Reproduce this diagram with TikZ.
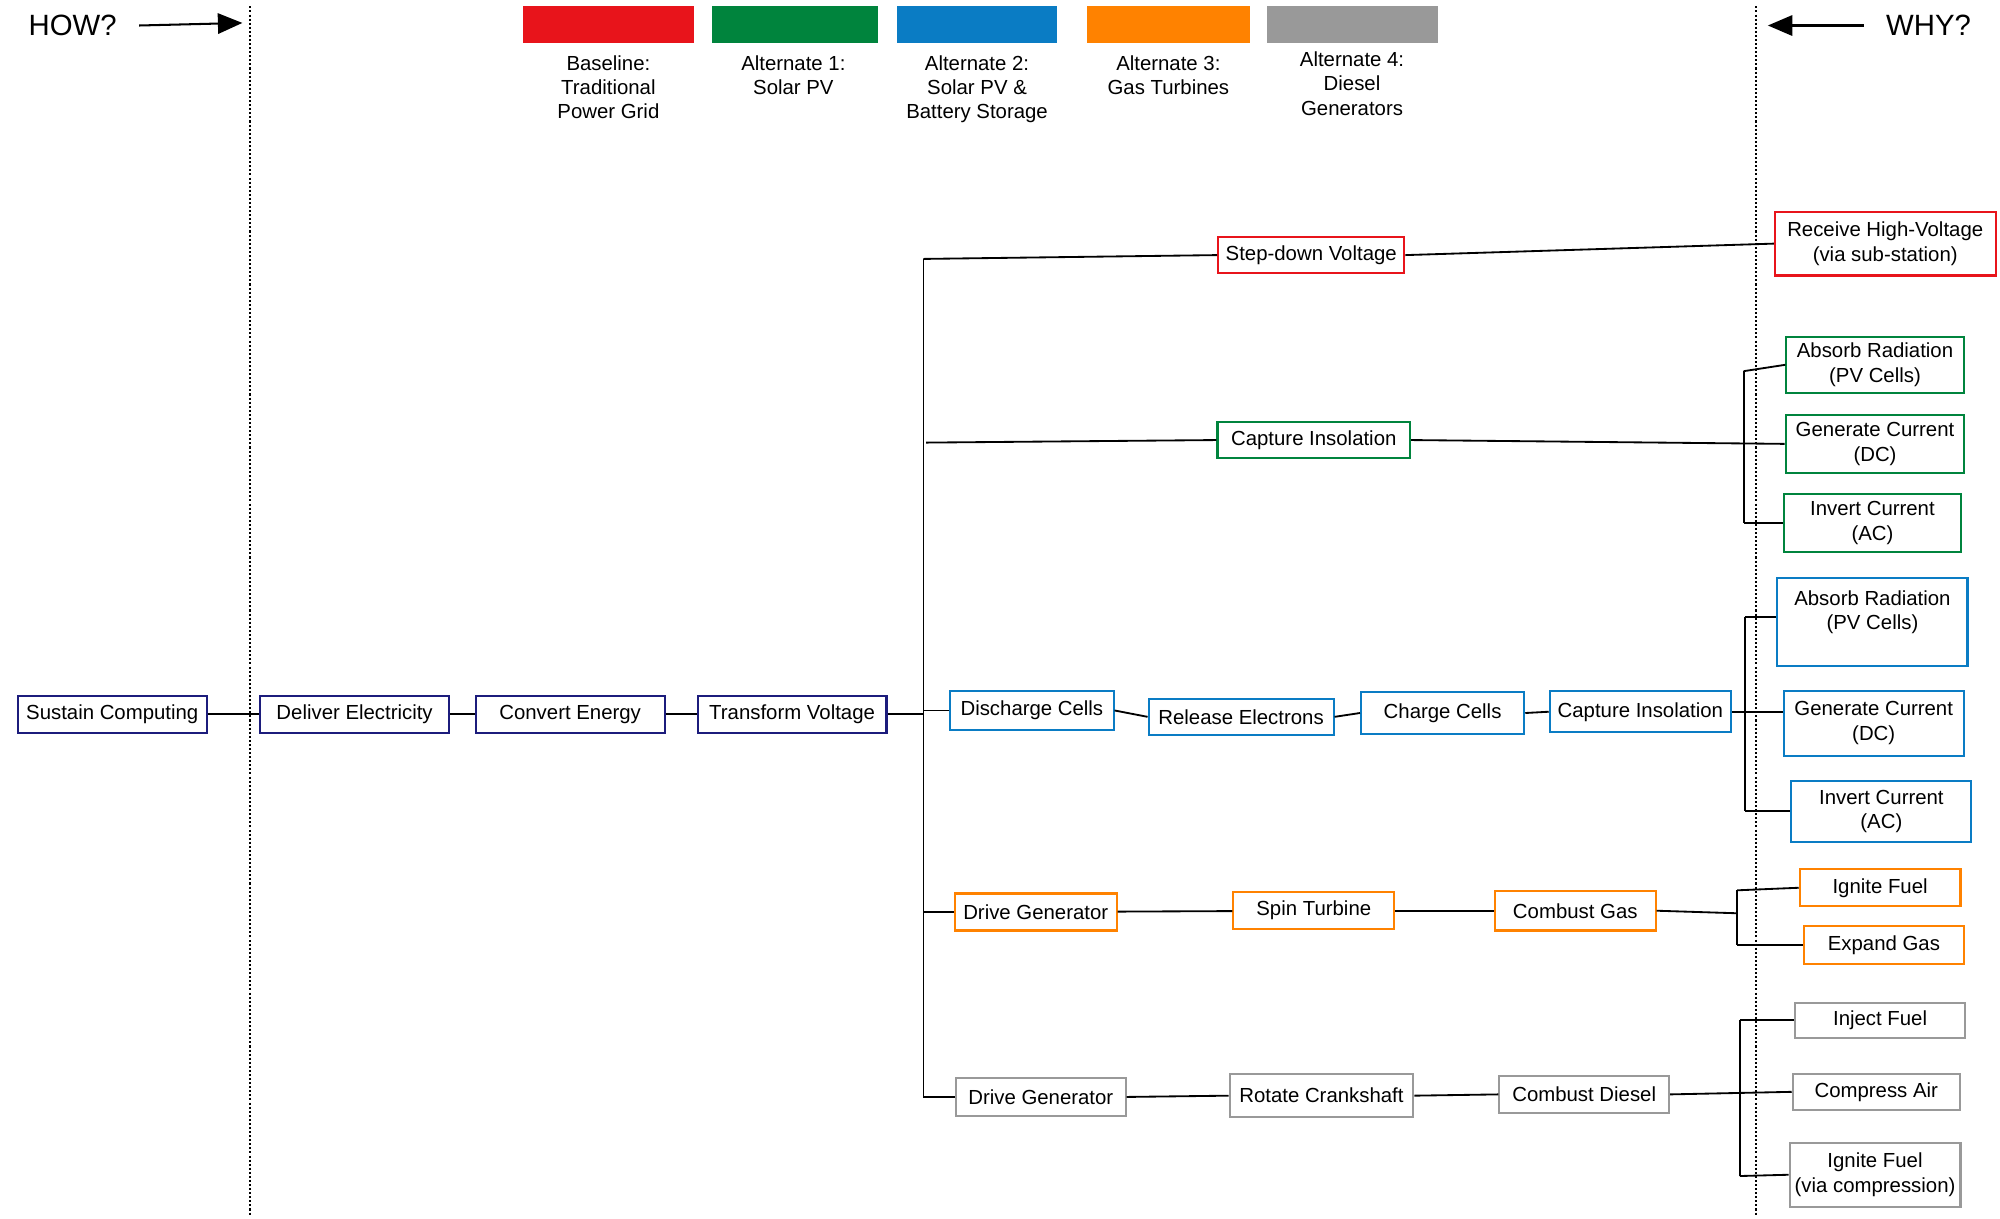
\documentclass[tikz,border=0pt]{standalone}
\usepackage{fontspec}
\setmainfont{Liberation Sans}
\usetikzlibrary{arrows.meta}
\definecolor{fnNavy}{HTML}{1C1C7C}
\definecolor{fnRed}{HTML}{E8141B}
\definecolor{fnGreen}{HTML}{00843D}
\definecolor{fnBlue}{HTML}{0A7CC4}
\definecolor{fnOrange}{HTML}{FF8200}
\definecolor{fnGray}{HTML}{999999}
\tikzset{
    fn/.style={
        draw,
        rectangle,
        line width=1pt,
        align=center,
        inner sep=1pt,
        font=\normalsize
    },
    link/.style={line width=0.9pt, color=black},
    swatch/.style={fill, draw=none},
    key/.style={align=center, font=\normalsize, inner sep=0pt}
}
\begin{document}
\begin{tikzpicture}[x=0.022cm, y=-0.022cm]
    \useasboundingbox (0,0) rectangle (1568,955);

    % HOW / WHY
    \draw[densely dotted, line width=1pt] (196,5) -- (196,953);
    \draw[densely dotted, line width=1pt] (1377,5) -- (1377,953);
    \node[font=\Large] (how) at (57,20) {HOW?};
    \node[font=\Large] (why) at (1512,20) {WHY?};
    \coordinate (howend) at (190,18);
    \coordinate (whyend) at (1386,20);
    \draw[line width=1pt, -{Triangle[length=12pt,width=10pt]}] (how.east) ++(12,0) -- (howend);
    \draw[line width=1pt, -{Triangle[length=12pt,width=10pt]}] (why.west) ++(-12,0) -- (whyend);

    % Legend
    \fill[fnRed] (410,5) rectangle (544,34);
    \fill[fnGreen] (558,5) rectangle (688,34);
    \fill[fnBlue] (703,5) rectangle (829,34);
    \fill[fnOrange] (852,5) rectangle (980,34);
    \fill[fnGray] (993,5) rectangle (1127,34);
    \node[key, anchor=north] (k0) at (477,43) {Baseline:\\Traditional\\Power Grid};
    \node[key, anchor=north] (k1) at (622,43) {Alternate 1:\\Solar PV};
    \node[key, anchor=north] (k2) at (766,43) {Alternate 2:\\Solar PV \&\\Battery Storage};
    \node[key, anchor=north] (k3) at (916,43) {Alternate 3:\\Gas Turbines};
    \node[key, anchor=north] (k4) at (1060,40) {Alternate 4:\\Diesel\\Generators};

    % Main chain
    \node[fn, draw=fnNavy, minimum width=148*0.022cm, minimum height=29*0.022cm] (sustain) at (88,560) {Sustain Computing};
    \node[fn, draw=fnNavy, minimum width=148*0.022cm, minimum height=29*0.022cm] (deliver) at (278,560) {Deliver Electricity};
    \node[fn, draw=fnNavy, minimum width=148*0.022cm, minimum height=29*0.022cm] (convert) at (447,560) {Convert Energy};
    \node[fn, draw=fnNavy, minimum width=148*0.022cm, minimum height=29*0.022cm] (transform) at (621,560) {Transform Voltage};

    % Baseline
    \node[fn, draw=fnRed, minimum width=146*0.022cm, minimum height=28*0.022cm] (stepdown) at (1028,200) {Step-down Voltage};
    \node[fn, draw=fnRed, minimum width=173*0.022cm, minimum height=50*0.022cm] (receive) at (1478,191) {Receive High-Voltage\\(via sub-station)};

    % Alternate 1
    \node[fn, draw=fnGreen, minimum width=151*0.022cm, minimum height=28*0.022cm] (capA) at (1030,345) {Capture Insolation};
    \node[fn, draw=fnGreen, minimum width=139*0.022cm, minimum height=44*0.022cm] (absA) at (1470,286) {Absorb Radiation\\(PV Cells)};
    \node[fn, draw=fnGreen, minimum width=140*0.022cm, minimum height=46*0.022cm] (genA) at (1470,348) {Generate Current\\(DC)};
    \node[fn, draw=fnGreen, minimum width=139*0.022cm, minimum height=45*0.022cm] (invA) at (1468,410) {Invert Current\\(AC)};

    % Alternate 2
    \node[fn, draw=fnBlue, minimum width=128*0.022cm, minimum height=31*0.022cm] (discharge) at (809,557) {Discharge Cells};
    \node[fn, draw=fnBlue, minimum width=145*0.022cm, minimum height=28*0.022cm] (release) at (973,562) {Release Electrons};
    \node[fn, draw=fnBlue, minimum width=128*0.022cm, minimum height=33*0.022cm] (charge) at (1131,559) {Charge Cells};
    \node[fn, draw=fnBlue, minimum width=142*0.022cm, minimum height=32*0.022cm] (capB) at (1286,558) {Capture Insolation};
    \node[fn, draw=fnBlue, minimum width=149*0.022cm, minimum height=69*0.022cm, text depth=12pt] (absB) at (1468,488) {Absorb Radiation\\(PV Cells)};
    \node[fn, draw=fnBlue, minimum width=141*0.022cm, minimum height=51*0.022cm] (genB) at (1469,567) {Generate Current\\(DC)};
    \node[fn, draw=fnBlue, minimum width=141*0.022cm, minimum height=48*0.022cm] (invB) at (1475,636) {Invert Current\\(AC)};

    % Alternate 3
    \node[fn, draw=fnOrange, minimum width=127*0.022cm, minimum height=29*0.022cm] (driveC) at (812,715) {Drive Generator};
    \node[fn, draw=fnOrange, minimum width=126*0.022cm, minimum height=29*0.022cm] (spin) at (1030,714) {Spin Turbine};
    \node[fn, draw=fnOrange, minimum width=126*0.022cm, minimum height=31*0.022cm] (gas) at (1235,714) {Combust Gas};
    \node[fn, draw=fnOrange, minimum width=126*0.022cm, minimum height=29*0.022cm] (igniteC) at (1474,696) {Ignite Fuel};
    \node[fn, draw=fnOrange, minimum width=125*0.022cm, minimum height=30*0.022cm] (expand) at (1477,741) {Expand Gas};

    % Alternate 4
    \node[fn, draw=fnGray, minimum width=133*0.022cm, minimum height=30*0.022cm] (driveD) at (816,860) {Drive Generator};
    \node[fn, draw=fnGray, minimum width=144*0.022cm, minimum height=34*0.022cm] (crank) at (1036,859) {Rotate Crankshaft};
    \node[fn, draw=fnGray, minimum width=133*0.022cm, minimum height=29*0.022cm] (diesel) at (1242,858) {Combust Diesel};
    \node[fn, draw=fnGray, minimum width=133*0.022cm, minimum height=28*0.022cm] (inject) at (1474,800) {Inject Fuel};
    \node[fn, draw=fnGray, minimum width=131*0.022cm, minimum height=28*0.022cm] (compress) at (1471,856) {Compress Air};
    \node[fn, draw=fnGray, minimum width=134*0.022cm, minimum height=50*0.022cm] (igniteD) at (1470,921) {Ignite Fuel\\(via compression)};

    % Chain links
    \draw[link] (sustain) -- (deliver);
    \draw[link] (deliver) -- (convert);
    \draw[link] (convert) -- (transform);
    \draw[link] (transform.east) -- (724,560);
    \draw[link] (724,203) -- (724,860);
    \draw[link] (724,203) -- (stepdown.west);
    \draw[link] (726,347) -- (capA.west);
    \draw[link] (724,557) -- (discharge.west);
    \draw[link] (724,715) -- (driveC.west);
    \draw[link] (724,860) -- (driveD.west);

    \draw[link] (stepdown.east) -- (receive.west);
    \draw[link] (capA.east) -- (genA.west);
    \draw[link] (1367,291) -- (1367,410);
    \draw[link] (1367,291) -- (absA.west);
    \draw[link] (1367,410) -- (invA.west);

    \draw[link] (discharge.east) -- (release.west);
    \draw[link] (release.east) -- (charge.west);
    \draw[link] (charge.east) -- (capB.west);
    \draw[link] (capB.east) -- (genB.west |- capB.east);
    \draw[link] (1368,484) -- (1368,636);
    \draw[link] (1368,484) -- (absB.west |- 0,484);
    \draw[link] (1368,636) -- (invB.west);

    \draw[link] (driveC) -- (spin);
    \draw[link] (spin) -- (gas);
    \draw[link] (gas.east) -- (1362,716);
    \draw[link] (1362,698) -- (1362,741);
    \draw[link] (1362,698) -- (igniteC.west);
    \draw[link] (1362,741) -- (expand.west);

    \draw[link] (driveD.east) -- (crank.west);
    \draw[link] (crank.east) -- (diesel.west);
    \draw[link] (diesel.east) -- (compress.west);
    \draw[link] (1364,800) -- (1364,922);
    \draw[link] (1364,800) -- (inject.west);
    \draw[link] (1364,922) -- (igniteD.west);
\end{tikzpicture}
\end{document}
